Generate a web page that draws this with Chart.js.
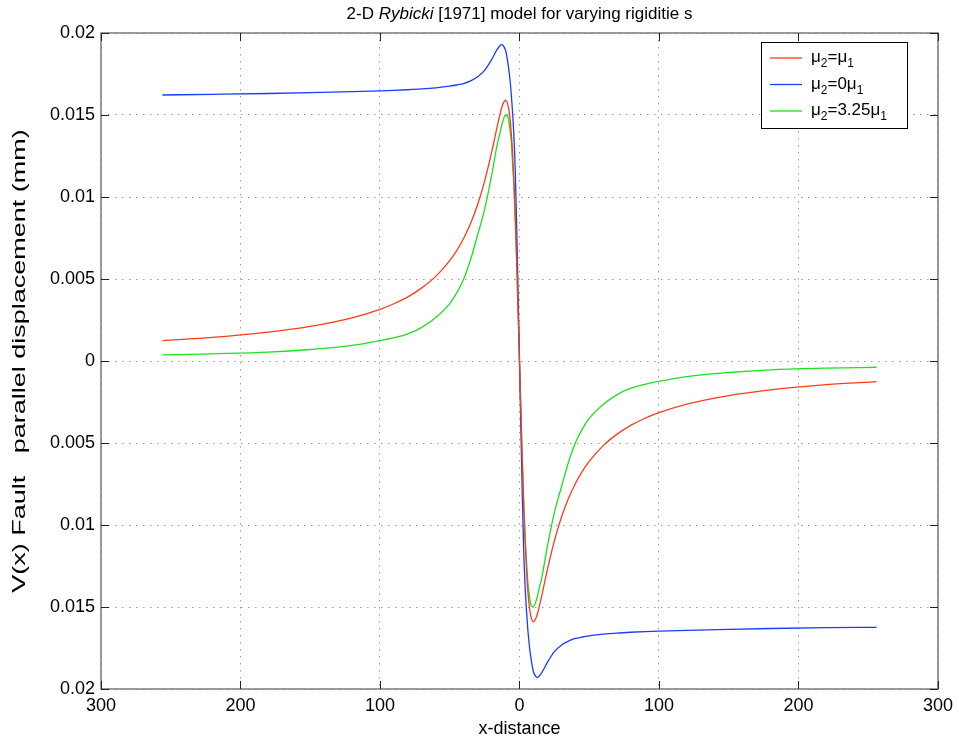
<!DOCTYPE html>
<html>
<head>
<meta charset="utf-8">
<script src="https://cdn.jsdelivr.net/npm/chart.js@4/dist/chart.umd.min.js"></script>
<style>
  html, body { margin: 0; padding: 0; background: #fff; }
  #wrap { width: 959px; height: 742px; }
</style>
</head>
<body>
<div id="wrap"><canvas id="chart" width="959" height="742"></canvas></div>
<script>
// values
let xValues = [-256, -220, -180, -150, -120, -100, -90, -80, -70, -60, -50, -45, -40, -35, -30, -25, -20, -16, -14, -13, -12, -10, -8, -7, -6, -5, -4, -3, -2,
    0, 2, 3, 4, 5, 6, 7, 8, 10, 12, 13, 14, 16, 20, 25, 30, 35, 40, 45, 50, 60, 70, 80, 90, 100, 120, 150, 180, 220, 256];

let redValues = [0.00124, 0.00144, 0.00176, 0.00211, 0.00263, 0.00315, 0.00349, 0.00391, 0.00446, 0.00516, 0.00612, 0.00673, 0.00748, 0.00840, 0.00954, 0.01097, 0.01272, 0.01429, 0.01504, 0.01537, 0.01564, 0.01590, 0.01551, 0.01494, 0.01403, 0.01272, 0.01097, 0.00875, 0.00612,
    0, -0.00612, -0.00875, -0.01097, -0.01272, -0.01403, -0.01494, -0.01551, -0.01590, -0.01564, -0.01537, -0.01504, -0.01429, -0.01272, -0.01097, -0.00954, -0.00840, -0.00748, -0.00673, -0.00612, -0.00516, -0.00446, -0.00391, -0.00349, -0.00315, -0.00263, -0.00211, -0.00176, -0.00144, -0.00126];

let blueValues = [0.01622, 0.01626, 0.01631, 0.01636, 0.01642, 0.01647, 0.01650, 0.01654, 0.01659, 0.01666, 0.01676, 0.01683, 0.01692, 0.01708, 0.01733, 0.01772, 0.01838, 0.01900, 0.01922, 0.01929, 0.01926, 0.01895, 0.01800, 0.01730, 0.01640, 0.01520, 0.01370, 0.01150, 0.00820,
    0, -0.00820, -0.01150, -0.01370, -0.01520, -0.01640, -0.01730, -0.01800, -0.01895, -0.01926, -0.01929, -0.01922, -0.01900, -0.01838, -0.01772, -0.01733, -0.01708, -0.01692, -0.01683, -0.01676, -0.01666, -0.01659, -0.01654, -0.01650, -0.01647, -0.01642, -0.01636, -0.01631, -0.01626, -0.01624];

let greenValues = [0.00037, 0.00044, 0.00054, 0.00070, 0.00095, 0.00124, 0.00142, 0.00166, 0.00205, 0.00265, 0.00350, 0.00415, 0.00500, 0.00620, 0.00770, 0.00925, 0.01130, 0.01320, 0.01390, 0.01430, 0.01460, 0.01500, 0.01480, 0.01420, 0.01350, 0.01210, 0.01060, 0.00850, 0.00600,
    0, -0.00600, -0.00850, -0.01060, -0.01210, -0.01350, -0.01420, -0.01480, -0.01500, -0.01460, -0.01430, -0.01390, -0.01320, -0.01130, -0.00925, -0.00770, -0.00620, -0.00500, -0.00415, -0.00350, -0.00265, -0.00205, -0.00166, -0.00142, -0.00124, -0.00095, -0.00070, -0.00054, -0.00044, -0.00038];

let xTicks = [-300, -200, -100, 0, 100, 200, 300];
let xTickLabels = ['300', '200', '100', '0', '100', '200', '300'];
let yTicks = [-0.02, -0.015, -0.01, -0.005, 0, 0.005, 0.01, 0.015, 0.02];
let yTickLabels = ['0.02', '0.015', '0.01', '0.005', '0', '0.005', '0.01', '0.015', '0.02'];

let seriesNames = [
    [['\u03bc', 0], ['2', 1], ['=\u03bc', 0], ['1', 1]],
    [['\u03bc', 0], ['2', 1], ['=0\u03bc', 0], ['1', 1]],
    [['\u03bc', 0], ['2', 1], ['=3.25\u03bc', 0], ['1', 1]]
];
let seriesColors = ['#ff3a1a', '#1a3cff', '#1ee01e'];

let yTitle = 'V(x) Fault   parallel displacement (mm)';

const FONT = '"Liberation Sans", Arial, Helvetica, sans-serif';

function toPoints(ys){
    return xValues.map((x, i) => ({x: x, y: ys[i]}));
}

// title with italic author name, box with inward ticks, y label, legend with subscripts
const matlabLook = {
    id: 'matlabLook',
    afterDraw(chart){
        const ctx = chart.ctx;
        const a = chart.chartArea;
        const xs = chart.scales.x;
        const ys = chart.scales.y;

        ctx.save();
        // box
        ctx.strokeStyle = '#7a7a7a';
        ctx.lineWidth = 1.5;
        ctx.strokeRect(a.left, a.top, a.right - a.left, a.bottom - a.top);

        // inward ticks
        ctx.strokeStyle = '#222';
        ctx.lineWidth = 1;
        ctx.beginPath();
        xTicks.forEach(v => {
            const px = Math.round(xs.getPixelForValue(v)) + 0.5;
            ctx.moveTo(px, a.bottom); ctx.lineTo(px, a.bottom - 8);
            ctx.moveTo(px, a.top); ctx.lineTo(px, a.top + 8);
        });
        yTicks.forEach(v => {
            const py = Math.round(ys.getPixelForValue(v)) + 0.5;
            ctx.moveTo(a.left, py); ctx.lineTo(a.left + 8, py);
            ctx.moveTo(a.right, py); ctx.lineTo(a.right - 8, py);
        });
        ctx.stroke();

        // title
        const parts = [['2-D ', ''], ['Rybicki', 'italic '], [' [1971] model for varying rigiditie s', '']];
        ctx.fillStyle = '#000';
        ctx.textBaseline = 'alphabetic';
        ctx.textAlign = 'left';
        let total = 0;
        parts.forEach(p => { ctx.font = p[1] + '17px ' + FONT; total += ctx.measureText(p[0]).width; });
        let tx = (a.left + a.right) / 2 - total / 2;
        parts.forEach(p => {
            ctx.font = p[1] + '17px ' + FONT;
            ctx.fillText(p[0], tx, 19);
            tx += ctx.measureText(p[0]).width;
        });

        // y axis label, stretched along its length like the original
        ctx.save();
        ctx.translate(25, (a.top + a.bottom) / 2);
        ctx.rotate(-Math.PI / 2);
        ctx.scale(1.5, 1);
        ctx.font = '18px ' + FONT;
        ctx.textAlign = 'center';
        ctx.fillText(yTitle, 0, 0);
        ctx.restore();

        // legend
        const lx = 761, ly = 42, lw = 146, lh = 86;
        ctx.fillStyle = '#fff';
        ctx.fillRect(lx, ly, lw, lh);
        ctx.strokeStyle = '#000';
        ctx.lineWidth = 1;
        ctx.strokeRect(lx + 0.5, ly + 0.5, lw, lh);
        seriesNames.forEach((name, i) => {
            const rowY = 58 + i * 26.5;
            ctx.strokeStyle = seriesColors[i];
            ctx.lineWidth = 1.3;
            ctx.beginPath();
            ctx.moveTo(770, rowY); ctx.lineTo(802, rowY);
            ctx.stroke();
            let x = 811;
            ctx.fillStyle = '#000';
            name.forEach(seg => {
                if(seg[1]){
                    ctx.font = '12px ' + FONT;
                    ctx.fillText(seg[0], x, rowY + 9);
                } else {
                    ctx.font = '17px ' + FONT;
                    ctx.fillText(seg[0], x, rowY + 4);
                }
                x += ctx.measureText(seg[0]).width;
            });
        });
        ctx.restore();
    }
};

const ctx = document.getElementById('chart').getContext('2d');

const chart = new Chart(ctx, {
    type: 'line',
    data: {
        datasets: [
            { label: 'mu2=mu1', data: toPoints(redValues), borderColor: seriesColors[0] },
            { label: 'mu2=0mu1', data: toPoints(blueValues), borderColor: seriesColors[1] },
            { label: 'mu2=3.25mu1', data: toPoints(greenValues), borderColor: seriesColors[2] }
        ]
    },
    options: {
        responsive: false,
        animation: false,
        layout: { padding: { top: 33, right: 18, left: 0, bottom: 0 } },
        elements: {
            point: { radius: 0 },
            line: { borderWidth: 1.3, cubicInterpolationMode: 'monotone', fill: false }
        },
        plugins: {
            legend: { display: false },
            title: { display: false },
            tooltip: { enabled: false }
        },
        scales: {
            x: {
                type: 'linear',
                min: -300,
                max: 300,
                afterBuildTicks(scale){ scale.ticks = xTicks.map(v => ({value: v})); },
                afterFit(scale){ scale.height = 53; },
                grid: { color: '#9a9a9a', drawTicks: false },
                border: { display: false, dash: [1.5, 5.5] },
                ticks: {
                    padding: 6,
                    color: '#000',
                    font: { family: FONT, size: 18 },
                    maxRotation: 0,
                    callback: (v, i) => xTickLabels[i]
                },
                title: {
                    display: true,
                    text: 'x-distance',
                    color: '#000',
                    font: { family: FONT, size: 18 },
                    padding: { top: 0, bottom: 2 }
                }
            },
            y: {
                type: 'linear',
                min: -0.02,
                max: 0.02,
                afterBuildTicks(scale){ scale.ticks = yTicks.map(v => ({value: v})); },
                afterFit(scale){ scale.width = 101; },
                grid: { color: '#9a9a9a', drawTicks: false },
                border: { display: false, dash: [1.5, 5.5] },
                ticks: {
                    padding: 6,
                    color: '#000',
                    font: { family: FONT, size: 18 },
                    callback: (v, i) => yTickLabels[i]
                }
            }
        }
    },
    plugins: [matlabLook]
});
</script>
</body>
</html>
